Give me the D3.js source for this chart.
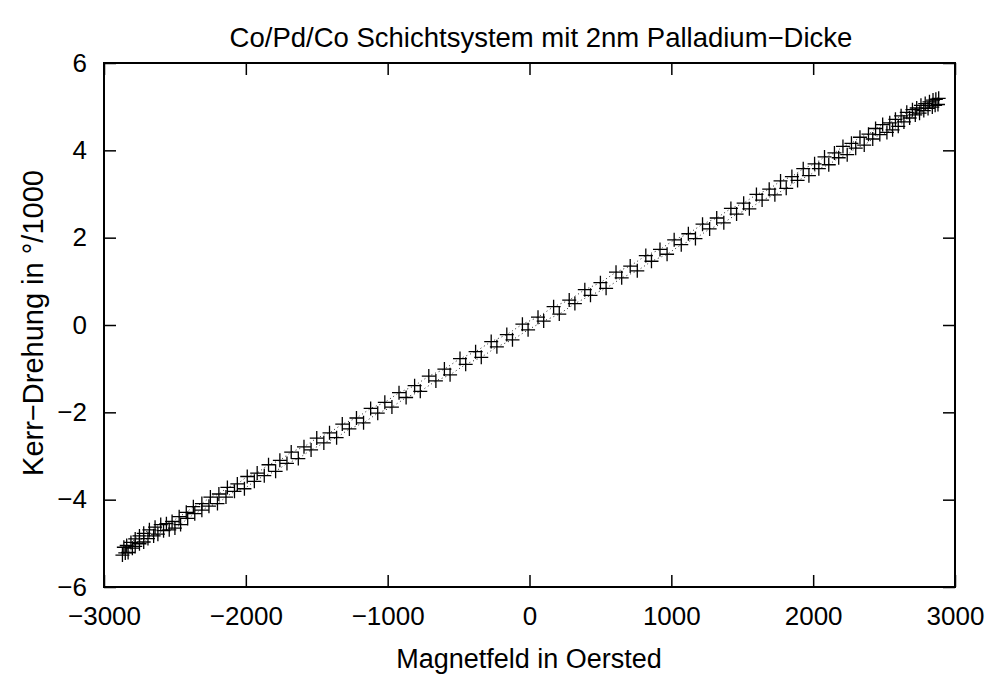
<!DOCTYPE html>
<meta charset="utf-8">
<style>
  body { margin: 0; background: #fff; }
  text { font-family: "Liberation Sans", Arial, sans-serif; fill: #000; }
  .axis path, .axis line { fill: none; stroke: #000; }
</style>
<body>
<script src="https://cdn.jsdelivr.net/npm/d3@7"></script>
<script>
// up sweep
var fieldUp = [-2870, -2850, -2830, -2800, -2780, -2750, -2720, -2690, -2650, -2620, -2580, -2540, -2500, -2460, -2410, -2360, -2310, -2260, -2200, -2140, -2080, -2010, -1940, -1870, -1790, -1710, -1630, -1540, -1450, -1360, -1270, -1170, -1070, -970, -870, -770, -660, -560, -450, -340, -230, -120, -10, 100, 210, 320, 430, 540, 650, 760, 860, 970, 1070, 1170, 1270, 1370, 1460, 1550, 1640, 1730, 1810, 1890, 1970, 2040, 2110, 2180, 2240, 2300, 2360, 2420, 2470, 2520, 2560, 2600, 2640, 2680, 2720, 2750, 2780, 2810, 2840, 2860, 2880];
var kerrUp = [-5.27, -5.22, -5.21, -5.11, -5.07, -5.01, -4.97, -4.89, -4.83, -4.79, -4.71, -4.69, -4.65, -4.57, -4.43, -4.32, -4.24, -4.15, -4.09, -3.94, -3.81, -3.75, -3.58, -3.45, -3.35, -3.17, -3.06, -2.86, -2.70, -2.58, -2.38, -2.24, -2.02, -1.88, -1.66, -1.52, -1.28, -1.14, -0.90, -0.74, -0.50, -0.34, -0.11, 0.09, 0.25, 0.49, 0.68, 0.84, 1.08, 1.24, 1.46, 1.62, 1.84, 1.98, 2.20, 2.34, 2.54, 2.66, 2.86, 2.98, 3.13, 3.31, 3.42, 3.58, 3.67, 3.83, 3.90, 4.05, 4.12, 4.26, 4.36, 4.41, 4.47, 4.55, 4.65, 4.74, 4.81, 4.85, 4.91, 4.96, 4.99, 5.03, 5.05];
// down sweep
var fieldDown = [2885, 2865, 2845, 2820, 2790, 2760, 2730, 2700, 2660, 2620, 2580, 2540, 2490, 2440, 2390, 2330, 2270, 2210, 2150, 2080, 2010, 1930, 1850, 1770, 1690, 1600, 1510, 1420, 1320, 1220, 1120, 1020, 920, 820, 710, 610, 500, 390, 280, 170, 60, -50, -160, -270, -380, -490, -600, -710, -810, -920, -1020, -1120, -1220, -1320, -1410, -1500, -1590, -1680, -1760, -1840, -1920, -1990, -2060, -2130, -2190, -2250, -2310, -2370, -2420, -2470, -2520, -2560, -2600, -2640, -2680, -2720, -2750, -2780, -2810, -2840, -2860];
var kerrDown = [5.19, 5.17, 5.15, 5.11, 5.07, 5.03, 4.97, 4.93, 4.87, 4.79, 4.71, 4.63, 4.59, 4.50, 4.37, 4.30, 4.16, 4.09, 3.94, 3.85, 3.69, 3.58, 3.40, 3.30, 3.11, 2.99, 2.79, 2.67, 2.45, 2.31, 2.09, 1.95, 1.73, 1.59, 1.35, 1.21, 0.97, 0.81, 0.57, 0.42, 0.18, 0.02, -0.22, -0.38, -0.61, -0.77, -1.01, -1.17, -1.39, -1.55, -1.77, -1.91, -2.13, -2.27, -2.47, -2.59, -2.79, -2.91, -3.10, -3.20, -3.39, -3.47, -3.64, -3.72, -3.87, -3.94, -4.09, -4.16, -4.29, -4.39, -4.50, -4.55, -4.57, -4.63, -4.69, -4.77, -4.83, -4.90, -4.98, -5.05, -5.09];

var xTicks = [-3000, -2000, -1000, 0, 1000, 2000, 3000];
var yTicks = [-6, -4, -2, 0, 2, 4, 6];

var margin = {top: 63, right: 40, bottom: 88, left: 104},
    width = 995 - margin.left - margin.right,
    height = 675 - margin.top - margin.bottom;

var svg = d3.select("body").append("svg")
    .attr("width", 995)
    .attr("height", 675);

var g = svg.append("g")
    .attr("transform", "translate(" + margin.left + "," + margin.top + ")");

var x = d3.scaleLinear().domain([-3000, 3000]).range([0, width]);
var y = d3.scaleLinear().domain([-6, 6]).range([height, 0]);

var fmt = function(d) { return d < 0 ? "\u2212" + Math.abs(d) : "" + d; };

// inward ticks on all four sides
g.append("g").attr("class", "axis")
    .attr("transform", "translate(0," + height + ")")
    .call(d3.axisBottom(x).tickValues(xTicks).tickSize(-12).tickPadding(20).tickFormat(fmt));
g.append("g").attr("class", "axis")
    .call(d3.axisTop(x).tickValues(xTicks).tickSize(-12).tickFormat(""));
g.append("g").attr("class", "axis")
    .call(d3.axisLeft(y).tickValues(yTicks).tickSize(-12).tickPadding(17).tickFormat(fmt));
g.append("g").attr("class", "axis")
    .attr("transform", "translate(" + width + ",0)")
    .call(d3.axisRight(y).tickValues(yTicks).tickSize(-12).tickFormat(""));

g.selectAll(".axis path").remove();
g.selectAll(".axis line").attr("stroke-width", 1.5);
g.selectAll(".axis text").style("font-size", "26px").attr("fill", "#000");

g.append("rect")
    .attr("width", width).attr("height", height)
    .attr("fill", "none").attr("stroke", "#000").attr("stroke-width", 2);

var series = [
  d3.zip(fieldUp, kerrUp),
  d3.zip(fieldDown, kerrDown)
];

var line = d3.line().x(function(d) { return x(d[0]); }).y(function(d) { return y(d[1]); });

series.forEach(function(pts) {
  g.append("path")
      .attr("d", line(pts))
      .attr("fill", "none")
      .attr("stroke", "#222")
      .attr("stroke-width", 1)
      .attr("stroke-dasharray", "1,3");

  g.selectAll(null).data(pts).enter().append("path")
      .attr("d", function(d) {
        var cx = x(d[0]), cy = y(d[1]), s = 7;
        return "M" + (cx - s) + "," + cy + "H" + (cx + s) + "M" + cx + "," + (cy - s) + "V" + (cy + s);
      })
      .attr("stroke", "#000")
      .attr("stroke-width", 1.3);
});

svg.append("text")
    .attr("x", 541).attr("y", 47)
    .attr("text-anchor", "middle")
    .style("font-size", "27.5px")
    .text("Co/Pd/Co Schichtsystem mit 2nm Palladium\u2212Dicke");

svg.append("text")
    .attr("x", 529).attr("y", 668)
    .attr("text-anchor", "middle")
    .style("font-size", "27px")
    .text("Magnetfeld in Oersted");

svg.append("text")
    .attr("transform", "translate(43,323) rotate(-90)")
    .attr("text-anchor", "middle")
    .style("font-size", "29px")
    .text("Kerr\u2212Drehung in \u00b0/1000");
</script>
</body>
